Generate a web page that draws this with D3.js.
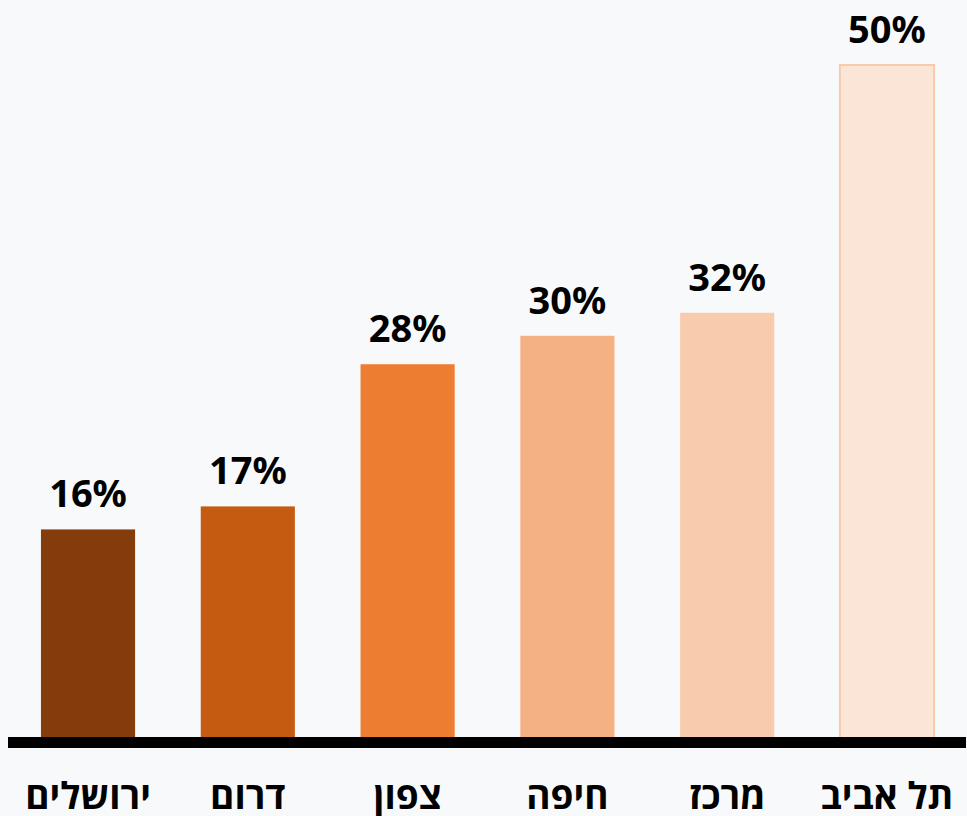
<!DOCTYPE html>
<html>
<head>
<meta charset="utf-8">
<script src="https://cdn.jsdelivr.net/npm/d3@7"></script>
<style>
  html, body { margin: 0; padding: 0; background: #f8f9fb; }
  svg { display: block; }
</style>
</head>
<body>
<svg id="chart"></svg>
<script>
var categories = ['ירושלים', 'דרום', 'צפון', 'חיפה', 'מרכז', 'תל אביב'];
var values = [15.7, 17.4, 27.9, 30.0, 31.7, 50.0];
var colors = ['#843c0c', '#c55a11', '#ed7d31', '#f4b183', '#f8cbad', '#fbe5d6'];

var width = 967, height = 816;
var font = '"Noto Sans", "Open Sans", "DejaVu Sans", sans-serif';

var svg = d3.select('#chart')
  .attr('width', width)
  .attr('height', height);

svg.append('rect')
  .attr('width', width)
  .attr('height', height)
  .attr('fill', '#f8f9fb');

var data = categories.map(function (c, i) {
  return { name: c, value: values[i], color: colors[i] };
});

var x = d3.scaleBand()
  .domain(categories)
  .range([9, 966])
  .paddingInner(0.411)
  .paddingOuter(0.2);

var y = d3.scaleLinear()
  .domain([0, 50])
  .range([742, 65]);

svg.append('g').selectAll('rect')
  .data(data)
  .enter().append('rect')
  .attr('x', function (d) { return x(d.name); })
  .attr('y', function (d) { return y(d.value); })
  .attr('width', x.bandwidth())
  .attr('height', function (d) { return y(0) - y(d.value); })
  .attr('fill', function (d) { return d.color; })
  .attr('stroke', function (d, i) { return i === data.length - 1 ? '#f8cbad' : 'none'; })
  .attr('stroke-width', 2);

svg.append('g').selectAll('text')
  .data(data)
  .enter().append('text')
  .attr('x', function (d) { return x(d.name) + x.bandwidth() / 2; })
  .attr('y', function (d) { return y(d.value) - 22; })
  .attr('text-anchor', 'middle')
  .attr('font-family', font)
  .attr('font-weight', 700)
  .attr('font-size', '38px')
  .attr('fill', '#000')
  .text(function (d) { return Math.round(d.value) + '%'; });

svg.append('line')
  .attr('x1', 8)
  .attr('x2', 966)
  .attr('y1', 742.5)
  .attr('y2', 742.5)
  .attr('stroke', '#000')
  .attr('stroke-width', 11);

svg.append('g').selectAll('text')
  .data(data)
  .enter().append('text')
  .attr('x', function (d) { return x(d.name) + x.bandwidth() / 2; })
  .attr('y', 809)
  .attr('text-anchor', 'middle')
  .attr('font-family', font)
  .attr('font-weight', 700)
  .attr('font-size', '37px')
  .attr('fill', '#000')
  .text(function (d) { return d.name; });
</script>
</body>
</html>
